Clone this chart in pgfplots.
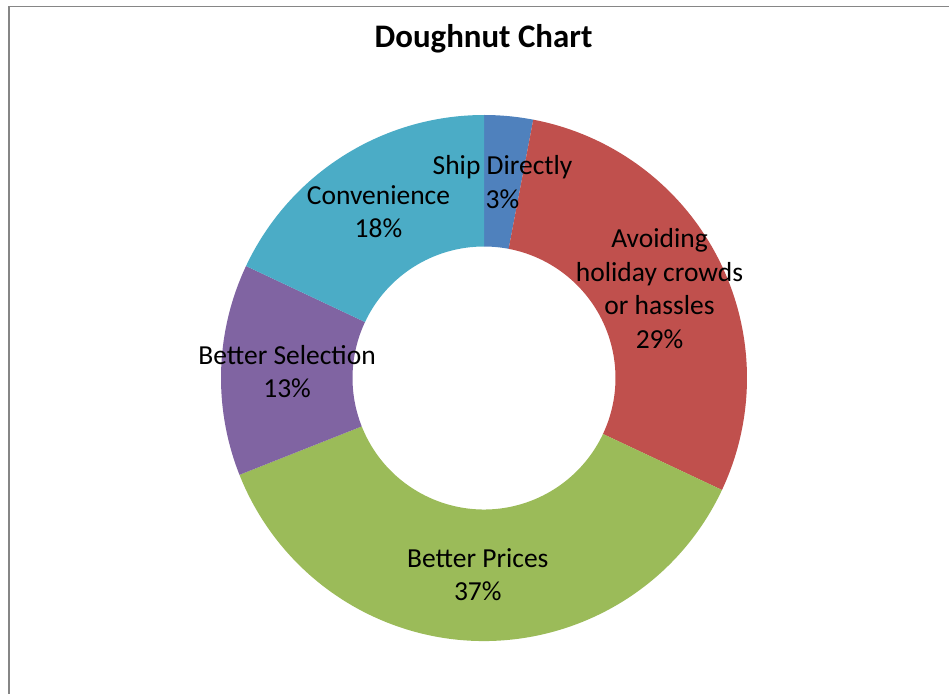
\documentclass[border=0pt]{standalone}
\usepackage{pgfplots}
\pgfplotsset{compat=1.18}
\usepackage{pgfplotstable}
\usepackage{fontspec}
\setmainfont{Carlito}

\definecolor{slice0}{HTML}{4F81BD}
\definecolor{slice1}{HTML}{C0504D}
\definecolor{slice2}{HTML}{9BBB59}
\definecolor{slice3}{HTML}{8064A2}
\definecolor{slice4}{HTML}{4BACC6}
\definecolor{frame}{HTML}{868686}

\pgfplotstableread[col sep=comma]{
label,value
Ship Directly,3
{Avoiding\\holiday crowds\\or hassles},29
Better Prices,37
Better Selection,13
Convenience,18
}\slices

\newcommand\lbl{\fontsize{27.6}{33.5}\selectfont}

\begin{document}
\begin{tikzpicture}
\useasboundingbox (0,0) rectangle (949bp,694bp);
% cumulative angles from the table
\gdef\cum{0}
\pgfplotsforeachungrouped \i in {0,...,4}{%
  \pgfplotstablegetelem{\i}{value}\of\slices
  \let\v=\pgfplotsretval
  \pgfmathsetmacro{\a}{90-3.6*\cum}%
  \pgfmathsetmacro{\cumnew}{\cum+\v}%
  \pgfmathsetmacro{\b}{90-3.6*\cumnew}%
  \pgfmathsetmacro{\m}{(\a+\b)/2}%
  \expandafter\xdef\csname sa\i\endcsname{\a}%
  \expandafter\xdef\csname sb\i\endcsname{\b}%
  \expandafter\xdef\csname sm\i\endcsname{\m}%
  \expandafter\xdef\csname sv\i\endcsname{\v}%
  \pgfplotstablegetelem{\i}{label}\of\slices
  \expandafter\global\expandafter\let\csname sl\i\endcsname\pgfplotsretval
  \xdef\cum{\cumnew}%
}
\begin{axis}[x=1bp,y=1bp,xmin=0,xmax=949,ymin=0,ymax=694,
  hide axis, clip=false, at={(0,0)}, anchor=origin]
\pgfplotsforeachungrouped \i in {0,...,4}{%
  \edef\temp{\noexpand\fill[slice\i] (axis cs:484,316) ++(\csname sa\i\endcsname:263bp)
    arc[start angle=\csname sa\i\endcsname, end angle=\csname sb\i\endcsname, radius=263bp]
    -- ++(\csname sb\i\endcsname+180:131.5bp)
    arc[start angle=\csname sb\i\endcsname, end angle=\csname sa\i\endcsname, radius=131.5bp] -- cycle;}%
  \temp
}
\pgfplotsforeachungrouped \i in {0,...,4}{%
  \edef\temp{\noexpand\path (axis cs:484,316) ++(\csname sm\i\endcsname:197bp)
    node[align=center, font=\noexpand\lbl, inner sep=0pt]
    {\expandafter\noexpand\csname sl\i\endcsname\noexpand\\\csname sv\i\endcsname\noexpand\%};}%
  \temp
}
\node[font=\fontsize{33}{40}\selectfont\bfseries] at (axis cs:483.5,655) {Doughnut Chart};
\draw[frame, line width=1.6bp] (axis cs:8.7,0) -- (axis cs:8.7,687.3) -- (axis cs:949,687.3);
\end{axis}
\end{tikzpicture}
\end{document}
